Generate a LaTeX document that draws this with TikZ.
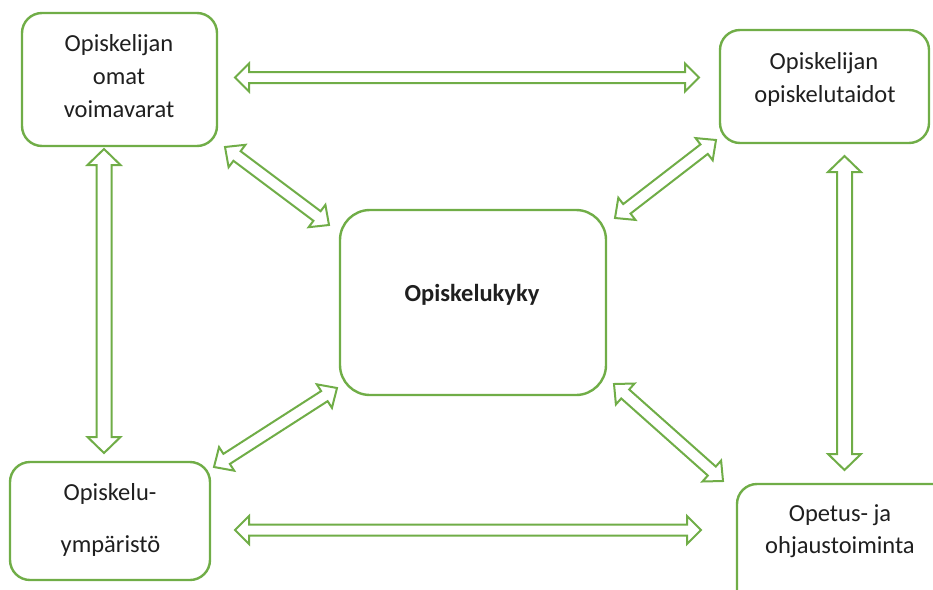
\documentclass[tikz,border=0pt]{standalone}
\usepackage{fontspec}
\setmainfont{Carlito}
\usetikzlibrary{calc}
\definecolor{offgreen}{RGB}{112,173,71}
\newcommand\dblarrow[5]{% tipA tipB shafthalf headhalf headlen
  \draw[arr] (#1)
    -- ($(#1)!#5!(#2)!#4!90:(#2)$)
    -- ($(#1)!#5!(#2)!#3!90:(#2)$)
    -- ($(#2)!#5!(#1)!#3!-90:(#1)$)
    -- ($(#2)!#5!(#1)!#4!-90:(#1)$)
    -- (#2)
    -- ($(#2)!#5!(#1)!#4!90:(#1)$)
    -- ($(#2)!#5!(#1)!#3!90:(#1)$)
    -- ($(#1)!#5!(#2)!#3!-90:(#2)$)
    -- ($(#1)!#5!(#2)!#4!-90:(#2)$)
    -- cycle;}
\begin{document}
\begin{tikzpicture}[x=1pt,y=-1pt,
  box/.style={draw=offgreen, line width=2.4pt, rounded corners=20pt, fill=white, inner sep=0pt},
  txt/.style={anchor=base, inner sep=0pt, font=\fontsize{24.5}{30}\selectfont, text=black!88},
  arr/.style={draw=offgreen, line width=2pt, fill=white, line join=miter}]
\useasboundingbox (0,0) rectangle (933,589);
\clip (0,0) rectangle (933,589);

% boxes
\node[box, minimum width=195pt, minimum height=133pt] (b1) at (119.5,79.5) {};
\node[box, minimum width=209pt, minimum height=113pt] (b2) at (824.5,86.5) {};
\node[box, rounded corners=30pt, minimum width=266pt, minimum height=185pt] (bc) at (473,302.5) {};
\node[box, minimum width=200pt, minimum height=118pt] (b3) at (110,521) {};
\node[box, minimum width=223pt, minimum height=126pt] (b4) at (848.5,547) {};

% texts
\node[txt] (t1a) at (119,51.5) {Opiskelijan};
\node[txt] (t1b) at (119,84) {omat};
\node[txt] (t1c) at (119,117) {voimavarat};
\node[txt] (t2a) at (824,69) {Opiskelijan};
\node[txt] (t2b) at (825,102) {opiskelutaidot};
\node[txt, font=\fontsize{24.5}{30}\selectfont\bfseries] (tc) at (472,301) {Opiskelukyky};
\node[txt] (t3a) at (110,500) {Opiskelu-};
\node[txt] (t3b) at (110.5,552) {ympäristö};
\node[txt] (t4a) at (840,521.5) {Opetus- ja};
\node[txt] (t4b) at (840,553) {ohjaustoiminta};

% arrow tips
\coordinate (h1a) at (235,77.5);  \coordinate (h1b) at (699,77.5);
\coordinate (h2a) at (235,530);   \coordinate (h2b) at (701,530);
\coordinate (v1a) at (104,149);   \coordinate (v1b) at (104,453);
\coordinate (v2a) at (844.5,156); \coordinate (v2b) at (844.5,470);
\coordinate (d1a) at (225,147);   \coordinate (d1b) at (329,225);
\coordinate (d2a) at (716,140);   \coordinate (d2b) at (615,218);
\coordinate (d3a) at (337,388);   \coordinate (d3b) at (214,467);
\coordinate (d4a) at (614,384);   \coordinate (d4b) at (723,481);

\dblarrow{h1a}{h1b}{5.5pt}{14pt}{14pt}
\dblarrow{h2a}{h2b}{5.5pt}{14pt}{14pt}
\dblarrow{v1a}{v1b}{7.5pt}{16.5pt}{16pt}
\dblarrow{v2a}{v2b}{7.5pt}{16.5pt}{16pt}
\dblarrow{d1a}{d1b}{6pt}{14pt}{15pt}
\dblarrow{d2a}{d2b}{6pt}{14pt}{15pt}
\dblarrow{d3a}{d3b}{6pt}{14pt}{15pt}
\dblarrow{d4a}{d4b}{6pt}{14pt}{15pt}
\end{tikzpicture}
\end{document}
